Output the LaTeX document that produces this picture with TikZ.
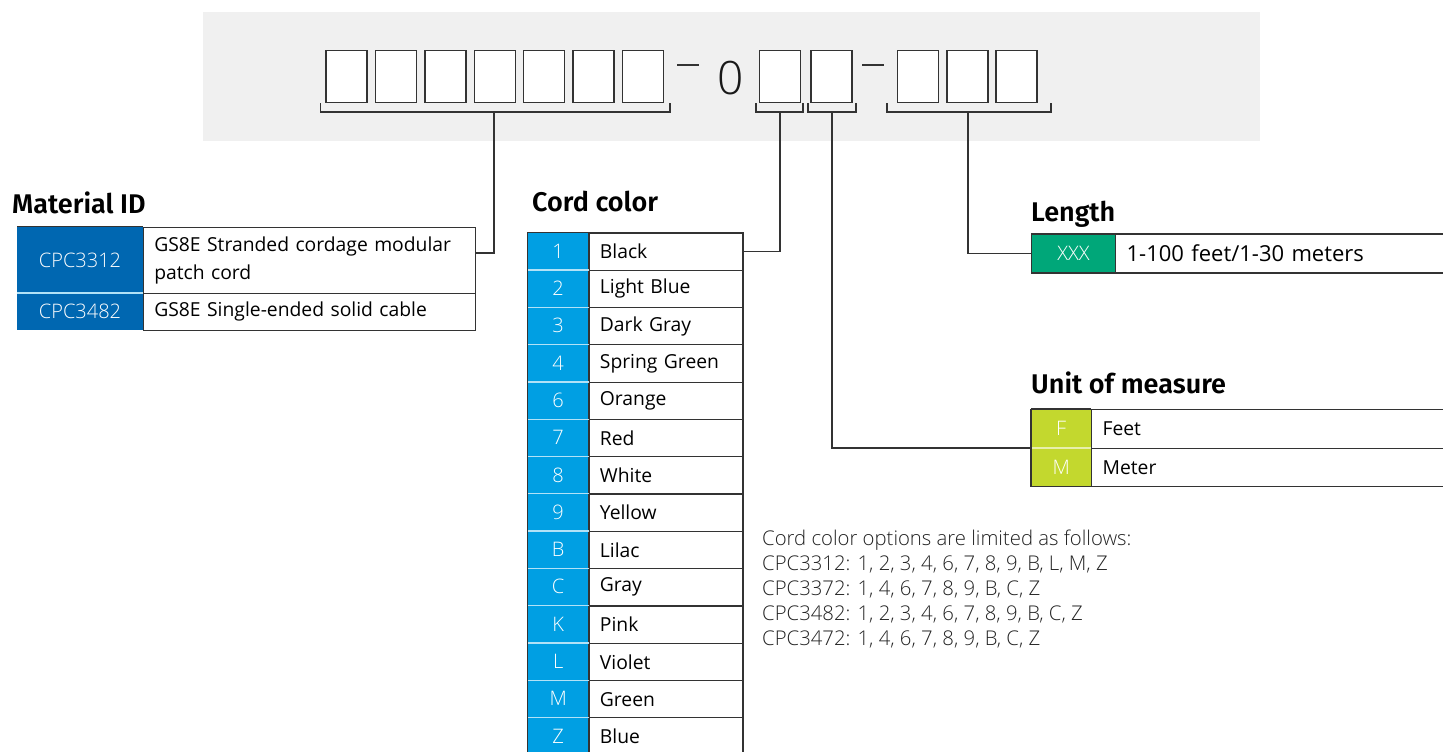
\documentclass[tikz,border=0pt]{standalone}
\usepackage{fontspec}
\setmainfont{Open Sans}
\IfFontExistsTF{Fira Sans SemiBold}{\newfontfamily\titlefont{Fira Sans SemiBold}}{\newfontfamily\titlefont{Fira Sans}[UprightFont=*-Bold]}
\IfFontExistsTF{Open Sans Light}{\newfontfamily\lightfont{Open Sans Light}}{\newfontfamily\lightfont{Open Sans}}
\definecolor{bgray}{HTML}{F0F0F0}
\definecolor{darkblue}{HTML}{0067B1}
\definecolor{cyanblue}{HTML}{009FE3}
\definecolor{codegreen}{HTML}{00A779}
\definecolor{lime}{HTML}{C3D82E}
\definecolor{boxline}{HTML}{333333}
\definecolor{notegray}{HTML}{222222}
\tikzset{
  digitbox/.style={draw=boxline, line width=1.4pt, fill=white, minimum width=41pt, minimum height=51.5pt, inner sep=0pt},
  brk/.style={draw=boxline, line width=1.3pt},
  conn/.style={draw=boxline, line width=1.3pt},
  bodyfont/.style={font=\fontsize{19.3}{23}\selectfont},
  codecell/.style={anchor=north west, inner sep=0pt, text=white, font=\lightfont\fontsize{20}{24}\selectfont, minimum width=#1},
  desccell/.style={anchor=north west, draw=boxline, line width=1.2pt, inner xsep=11pt, inner ysep=0pt, align=left, bodyfont, text width=#1},
  ttl/.style={font=\titlefont\fontsize{27}{32}\selectfont, anchor=base west, inner sep=0pt},
  sepline/.style={draw=white!70!cyanblue, line width=1.3pt},
}
\begin{document}
\begin{tikzpicture}[x=1pt,y=-1pt]
\useasboundingbox (0,0) rectangle (1443,752);
\fill[bgray] (203,12) rectangle (1260,141);

% digit boxes
\foreach \k in {0,...,6} {
  \node[digitbox] (g1\k) at ({346.5+49.4*\k},76.5) {};
}
\node[digitbox] (g2a) at (780,76.5) {};
\node[digitbox] (g2b) at (831.5,76.5) {};
\foreach \k in {0,1,2} {
  \node[digitbox] (g3\k) at ({918+49.3*\k},76.5) {};
}
\draw[line width=2pt, boxline] (677,65.5) -- (699,65.5);
\draw[line width=2pt, boxline] (862,65.5) -- (884,65.5);
\node[font=\lightfont\fontsize{46}{46}\selectfont, text=black!90, inner sep=0pt] (zero) at (731,78.5) {0};

% brackets
\coordinate (b1) at (494,112);
\coordinate (b2) at (780,112);
\coordinate (b3) at (832,112);
\coordinate (b4) at (968,112);
\draw[brk] (320.5,103) -- (320.5,112) -- (670,112) -- (670,103);
\draw[brk] (756,103) -- (756,112) -- (803,112) -- (803,103);
\draw[brk] (808,103) -- (808,112) -- (856,112) -- (856,103);
\draw[brk] (887,103) -- (887,112) -- (1051,112) -- (1051,103);

% Material ID
\node[ttl] (matt) at (12,213) {Material ID};
\node[codecell=125.7pt, minimum height=66pt, fill=darkblue] (m1c) at (17,226.7) {CPC3312};
\node[desccell=310.3pt, minimum height=66pt] (m1d) at (142.7,226.7) {GS8E Stranded cordage modular\\[5pt]patch cord};
\node[codecell=125.7pt, minimum height=37.3pt, fill=darkblue] (m2c) at (17,292.7) {CPC3482};
\node[desccell=310.3pt, minimum height=37.3pt] (m2d) at (142.7,292.7) {GS8E Single-ended solid cable};
\draw[sepline] (m1c.south west) -- (m1c.south east);
\draw[boxline, line width=1.2pt] (m1c.north west) -- (m1c.north east);
\coordinate (m1in) at (m1d.north east |- 0,253);
\draw[conn] (b1) |- (m1in);

% Cord color
\node[ttl] (cordt) at (532,211) {Cord color};
\foreach \c/\n [count=\i from 0] in {1/Black, 2/Light Blue, 3/Dark Gray, 4/Spring Green, 6/Orange, 7/Red, 8/White, 9/Yellow, B/Lilac, C/Gray, K/Pink, L/Violet, M/Green, Z/Blue} {
  \node[codecell=60.6pt, minimum height=37.3pt, fill=cyanblue] (cc\i) at (527.7,{232.3+37.3*\i}) {\c};
  \node[desccell=132pt, minimum height=37.3pt] (cd\i) at (588.3,{232.3+37.3*\i}) {\n};
}
\foreach \i in {0,...,12} {
  \draw[sepline] (cc\i.south west) -- (cc\i.south east);
}
\draw[boxline, line width=1.2pt] (cc0.north west) -- (cc0.north east);
\draw[boxline, line width=1pt] (cc0.north west) -- (cc13.south west);
\draw[conn] (b2) |- (cd0.east);

% Length
\node[ttl] (lent) at (1031,221) {Length};
\node[codecell=84pt, minimum height=39pt, fill=codegreen, draw=boxline, line width=1.2pt] (lc) at (1031,233.3) {XXX};
\node[desccell=340pt, minimum height=39pt, font=\fontsize{22}{26}\selectfont] (ld) at (1115,233.3) {1-100 feet/1-30 meters};
\draw[conn] (b4) |- (lc.west);

% Unit of measure
\node[ttl] (unitt) at (1031,393) {Unit of measure};
\node[codecell=60pt, minimum height=38.5pt, fill=lime] (uf) at (1031,409) {F};
\node[desccell=340pt, minimum height=38.5pt] (ufd) at (1091,409) {Feet};
\node[codecell=60pt, minimum height=38.5pt, fill=lime] (um) at (1031,447.5) {M};
\node[desccell=340pt, minimum height=38.5pt] (umd) at (1091,447.5) {Meter};
\draw[sepline, draw=white!60!lime] (uf.south west) -- (uf.south east);
\draw[boxline, line width=1.2pt] (uf.north west) -- (uf.north east) (uf.north west) -- (um.south west) -- (um.south east);
\draw[conn] (b3) |- (uf.south west);

% note
\node[anchor=north west, align=left, inner sep=0pt, text=notegray, font=\lightfont\fontsize{20.3}{25}\selectfont] (note) at (762,530) {Cord color options are limited as follows:\\CPC3312: 1, 2, 3, 4, 6, 7, 8, 9, B, L, M, Z\\CPC3372: 1, 4, 6, 7, 8, 9, B, C, Z\\CPC3482: 1, 2, 3, 4, 6, 7, 8, 9, B, C, Z\\CPC3472: 1, 4, 6, 7, 8, 9, B, C, Z};
\end{tikzpicture}
\end{document}
